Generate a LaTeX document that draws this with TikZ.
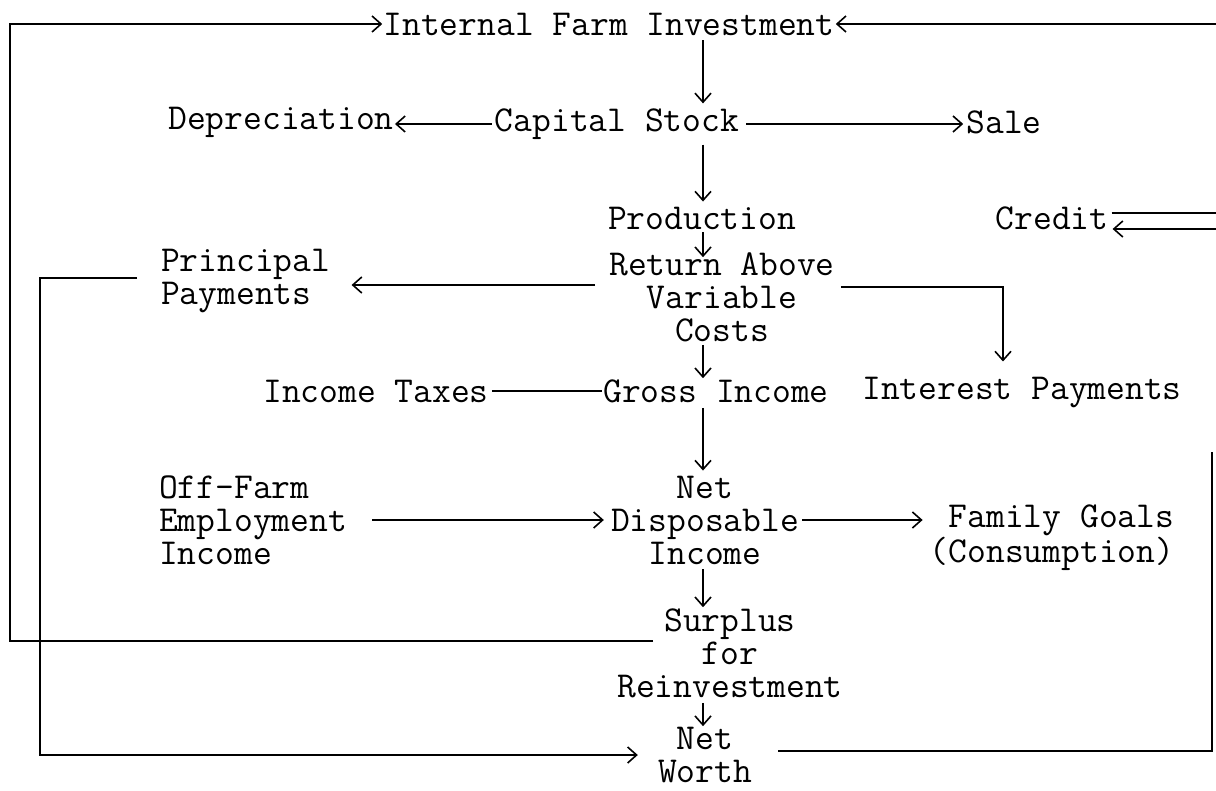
\documentclass[tikz,border=0pt]{standalone}
\usepackage{fontspec}
\usetikzlibrary{arrows.meta}
\begin{document}
\begin{tikzpicture}[x=1pt,y=-1pt,
  lbl/.style={font=\ttfamily\fontsize{36.5}{33}\selectfont, inner sep=1pt, align=center},
  ln/.style={line width=1.6pt},
  arr/.style={ln,-{Straight Barb[length=9pt,width=16pt,line width=1.6pt]}}]
\useasboundingbox (0,0) rectangle (1216,791);
% columns
\coordinate (cm) at (703,0);
\coordinate (L1) at (10,0);
\coordinate (L2) at (40,0);
\coordinate (E) at (1216,0);
\coordinate (R1) at (1212,452);
% nodes
\node[lbl] (ifi) at (609,24) {Internal Farm Investment};
\node[lbl] (dep) at (281,122) {Depreciation};
\node[lbl] (cap) at (617,124) {Capital Stock};
\node[lbl] (sale) at (1004,122) {Sale};
\node[lbl] (prod) at (702,218) {Production};
\node[lbl] (cred) at (1052,218) {Credit};
\node[lbl] (ret) at (722,297) {Return Above\\Variable\\Costs};
\node[lbl,align=left,anchor=west] (pp) at (160,281) {Principal\\Payments};
\node[lbl] (tax) at (376,391) {Income Taxes};
\node[lbl] (gi) at (716,391) {Gross Income};
\node[lbl] (ip) at (1022,393) {Interest Payments};
\node[lbl,align=left,anchor=west] (off) at (158,520) {Off-Farm\\Employment\\Income};
\node[lbl] (ndi) at (705,520) {Net\\Disposable\\Income};
\node[lbl,align=right] (fam) at (1052,538) {Family Goals\\(Consumption)};
\node[lbl] (sur) at (730,653) {Surplus\\for\\Reinvestment};
\node[lbl,inner sep=0pt,text depth=0pt] (nw) at (705,755) {Net\\Worth};
% vertical flow arrows
\draw[arr,shorten <=4pt,shorten >=4pt] (ifi.south -| cm) -- (cap.north -| cm);
\draw[arr,shorten <=4pt,shorten >=4pt] (cap.south -| cm) -- (prod.north -| cm);
\draw[arr,shorten <=2pt,shorten >=-6pt] (prod.south -| cm) -- (ret.north -| cm);
\draw[arr,shorten <=2pt,shorten >=0pt] (ret.south -| cm) -- (gi.north -| cm);
\draw[arr,shorten <=4pt,shorten >=4pt] (gi.south -| cm) -- (ndi.north -| cm);
\draw[arr,shorten <=4pt,shorten >=0pt] (ndi.south -| cm) -- (sur.north -| cm);
\draw[arr,shorten <=4pt,shorten >=1pt] (sur.south -| cm) -- (nw.north -| cm);
% horizontal arrows
\draw[arr,shorten <=2pt] (cap.west) -- (cap.west -| dep.east);
\draw[arr,shorten <=6pt,shorten >=2pt] (cap.east) -- (cap.east -| sale.west);
\draw[arr,shorten >=20pt] ([xshift=-13pt,yshift=12pt]ret.west) coordinate (r1) -- (pp.east |- r1);
\draw[arr] ([xshift=5pt,yshift=10pt]ret.east) -| ([xshift=-19pt,yshift=15pt]ip.north);
\draw[ln,shorten <=2pt] (tax.east) -- (tax.east -| gi.west);
\draw[arr,shorten <=24pt,shorten >=6pt] (off.east) -- (off.east -| ndi.west);
\draw[arr,shorten <=2pt,shorten >=6pt] (ndi.east) -- (ndi.east -| fam.west);
% feedback loops
\draw[arr] ([xshift=37pt,yshift=12pt]sur.west) -| (L1 |- ifi.west) -- (ifi.west);
\draw[arr,shorten >=20pt] ([xshift=-23pt,yshift=3pt]pp.west) -| (L2 |- nw.west) -- (nw.west);
\draw[ln] ([xshift=26pt,yshift=4pt]nw.east) -| (R1);
\draw[arr] (E |- ifi.east) -- (ifi.east);
\draw[ln] ([xshift=2pt,yshift=5pt]cred.east) -- ([yshift=5pt]cred.east -| E);
\draw[arr] ([yshift=-11pt]cred.east -| E) -- ([xshift=3pt,yshift=-11pt]cred.east);
\end{tikzpicture}
\end{document}
